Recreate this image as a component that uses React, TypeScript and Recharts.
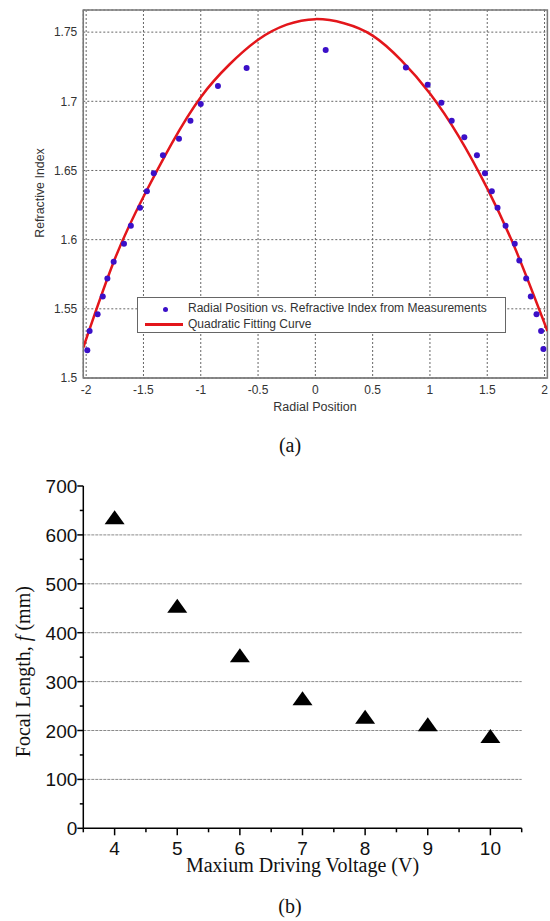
import React from 'react'
import {
  CartesianGrid,
  ComposedChart,
  Legend,
  Line,
  ReferenceArea,
  ReferenceLine,
  Scatter,
  ScatterChart,
  XAxis,
  YAxis
} from 'recharts'

// (a) measured points, radial position vs. refractive index
const measuredX = [
  -1.99, -1.97, -1.9, -1.855, -1.815, -1.76, -1.67, -1.61, -1.53, -1.47, -1.41, -1.33, -1.19, -1.09, -1.0, -0.85, -0.6,
  0.09, 0.79, 0.98, 1.1, 1.19, 1.3, 1.41, 1.48, 1.54, 1.59, 1.66, 1.74, 1.78, 1.84, 1.88, 1.93, 1.97, 1.99
]
const measuredN = [
  1.52, 1.534, 1.546, 1.559, 1.572, 1.584, 1.597, 1.61, 1.623, 1.635, 1.648, 1.661, 1.673, 1.686, 1.698, 1.711, 1.724,
  1.737, 1.7245, 1.712, 1.699, 1.686, 1.674, 1.661, 1.648, 1.635, 1.623, 1.61, 1.597, 1.585, 1.572, 1.559, 1.546, 1.534, 1.521
]

// (a) fitted curve
const fitX = [-2.025, -1.75, -1.5, -1.25, -1, -0.75, -0.5, -0.25, 0, 0.25, 0.5, 0.75, 1, 1.25, 1.5, 1.75, 2.025]
const fitN = [1.522, 1.586, 1.631, 1.67, 1.703, 1.7266, 1.7445, 1.7554, 1.7594, 1.7564, 1.7475, 1.7296, 1.7057, 1.6749, 1.6371, 1.5923, 1.534]

const radialTicks = [-2, -1.5, -1, -0.5, 0, 0.5, 1, 1.5, 2]
const indexTicks = [1.5, 1.55, 1.6, 1.65, 1.7, 1.75]

// (b) focal length vs. max driving voltage
const voltages = [4, 5, 6, 7, 8, 9, 10]
const focalLengths = [636, 455, 354, 266, 228, 213, 189]
const voltageTicks = [3.5, 4, 4.5, 5, 5.5, 6, 6.5, 7, 7.5, 8, 8.5, 9, 9.5, 10, 10.5]
const focalTicks = [0, 50, 100, 150, 200, 250, 300, 350, 400, 450, 500, 550, 600, 650, 700]
const focalGrid = [100, 200, 300, 400, 500, 600]

const SANS = 'Arial, "Liberation Sans", sans-serif'
const SERIF = '"Times New Roman", "Liberation Serif", serif'
const DOT = '#3b10c8'
const RED = '#e3161b'

const measured = measuredX.map((x, i) => ({ x, y: measuredN[i] }))
const fit = fitX.map((x, i) => ({ x, y: fitN[i] }))
const focal = voltages.map((x, i) => ({ x, y: focalLengths[i] }))

function FitLegend() {
  return (
    <div
      style={{
        position: 'relative',
        width: 369,
        height: 36,
        border: '1px solid #666',
        background: '#fff',
        fontFamily: SANS,
        fontSize: 12,
        color: '#333',
        whiteSpace: 'nowrap',
        boxSizing: 'border-box'
      }}
    >
      <span style={{ position: 'absolute', left: 24.5, top: 8.5, width: 5, height: 5, borderRadius: 3, background: DOT }} />
      <span style={{ position: 'absolute', left: 50, top: 3 }}>Radial Position vs. Refractive Index from Measurements</span>
      <span style={{ position: 'absolute', left: 7, top: 25, width: 38, height: 3, background: RED }} />
      <span style={{ position: 'absolute', left: 50, top: 19 }}>Quadratic Fitting Curve</span>
    </div>
  )
}

function Dot(props: any) {
  const { cx, cy } = props
  if (cx == null || cy == null) return null
  return <circle cx={cx} cy={cy} r={3} fill={DOT} />
}

function Triangle(props: any) {
  const { cx, cy } = props
  if (cx == null || cy == null) return null
  return <polygon points={`${cx},${cy - 7} ${cx - 10},${cy + 7} ${cx + 10},${cy + 7}`} fill="#000" />
}

function VoltageTick(props: any) {
  const { x, y, payload } = props
  const major = Number.isInteger(payload.value)
  return (
    <g>
      <line x1={x} x2={x} y1={y} y2={y + (major ? 7 : 4)} stroke="#000" strokeWidth={1.5} />
      {major && (
        <text x={x} y={y + 27} textAnchor="middle" fontFamily={SANS} fontSize={19} fill="#111">
          {payload.value}
        </text>
      )}
    </g>
  )
}

function FocalTick(props: any) {
  const { x, y, payload } = props
  const major = payload.value % 100 === 0
  return (
    <g>
      <line x1={x} x2={x - (major ? 6 : 3.5)} y1={y} y2={y} stroke="#000" strokeWidth={1.5} />
      {major && (
        <text x={x - 6} y={y + 7} textAnchor="end" fontFamily={SANS} fontSize={19} fill="#111">
          {payload.value}
        </text>
      )}
    </g>
  )
}

function RefractiveChart() {
  return (
    <ComposedChart width={550} height={420} margin={{ top: 10, right: 2.6, bottom: 0, left: 0 }}>
      <CartesianGrid stroke="#666" strokeDasharray="2 2" />
      <ReferenceArea x1={-2.025} x2={2.025} y1={1.5} y2={1.766} stroke="#7a7a7a" strokeWidth={1.5} fill="none" />
      <XAxis
        type="number"
        dataKey="x"
        domain={[-2.025, 2.025]}
        ticks={radialTicks}
        allowDataOverflow
        height={42}
        axisLine={{ stroke: '#7a7a7a' }}
        tickLine={false}
        tickSize={5}
        tickMargin={2}
        tick={{ fill: '#333', fontSize: 12, fontFamily: SANS }}
        label={() => (
          <text x={315} y={411} textAnchor="middle" fontFamily={SANS} fontSize={12.5} fill="#333">
            Radial Position
          </text>
        )}
      />
      <YAxis
        type="number"
        dataKey="y"
        domain={[1.5, 1.766]}
        ticks={indexTicks}
        allowDataOverflow
        width={83.3}
        axisLine={{ stroke: '#7a7a7a' }}
        tickLine={false}
        tickSize={4}
        tickMargin={2}
        tick={{ fill: '#333', fontSize: 12, fontFamily: SANS }}
        label={() => (
          <text
            x={44}
            y={193}
            textAnchor="middle"
            transform="rotate(-90 44 193)"
            fontFamily={SANS}
            fontSize={12.4}
            fill="#333"
          >
            Refractive Index
          </text>
        )}
      />
      <Line
        data={fit}
        dataKey="y"
        type="natural"
        stroke={RED}
        strokeWidth={2.5}
        dot={false}
        isAnimationActive={false}
      />
      <Scatter data={measured} dataKey="y" fill={DOT} shape={<Dot />} isAnimationActive={false} />
      <Legend
        layout="horizontal"
        verticalAlign="middle"
        align="center"
        wrapperStyle={{ left: 137, top: 297, width: 369, height: 36 }}
        content={() => <FitLegend />}
      />
    </ComposedChart>
  )
}

function FocalChart() {
  return (
    <ScatterChart width={550} height={420} margin={{ top: 26, right: 28.3, bottom: 0, left: 0 }}>
      {focalGrid.map((v) => (
        <ReferenceLine key={v} y={v} stroke="#8a8a8a" strokeDasharray="3 1" strokeWidth={1} />
      ))}
      <XAxis
        type="number"
        dataKey="x"
        domain={[3.5, 10.5]}
        ticks={voltageTicks}
        allowDataOverflow
        height={51.7}
        axisLine={{ stroke: '#000', strokeWidth: 1.5 }}
        tickLine={false}
        tickSize={0}
        tickMargin={0}
        interval={0}
        tick={<VoltageTick />}
        label={() => (
          <text x={302.5} y={412} textAnchor="middle" fontFamily={SERIF} fontSize={20} fill="#111">
            Maxium Driving Voltage (V)
          </text>
        )}
      />
      <YAxis
        type="number"
        dataKey="y"
        domain={[0, 700]}
        ticks={focalTicks}
        allowDataOverflow
        width={83.3}
        axisLine={{ stroke: '#000', strokeWidth: 1.5 }}
        tickLine={false}
        tickSize={0}
        tickMargin={0}
        interval={0}
        tick={<FocalTick />}
        label={() => (
          <text
            x={30}
            y={211.7}
            textAnchor="middle"
            transform="rotate(-90 30 211.7)"
            fontFamily={SERIF}
            fontSize={20}
            fill="#111"
          >
            Focal Length, <tspan fontStyle="italic">f</tspan> (mm)
          </text>
        )}
      />
      <Scatter data={focal} fill="#000" shape={<Triangle />} isAnimationActive={false} />
    </ScatterChart>
  )
}

export default function App() {
  return (
    <div style={{ position: 'absolute', left: 0, top: 0, width: 550, height: 921, background: '#fff' }}>
      <div style={{ position: 'absolute', left: 0, top: 0 }}>
        <RefractiveChart />
      </div>
      <div
        style={{
          position: 'absolute',
          left: 0,
          top: 434,
          width: 580,
          textAlign: 'center',
          fontFamily: SERIF,
          fontSize: 20,
          color: '#111'
        }}
      >
        (a)
      </div>
      <div style={{ position: 'absolute', left: 0, top: 460 }}>
        <FocalChart />
      </div>
      <div
        style={{
          position: 'absolute',
          left: 0,
          top: 895,
          width: 580,
          textAlign: 'center',
          fontFamily: SERIF,
          fontSize: 20,
          color: '#111'
        }}
      >
        (b)
      </div>
    </div>
  )
}
